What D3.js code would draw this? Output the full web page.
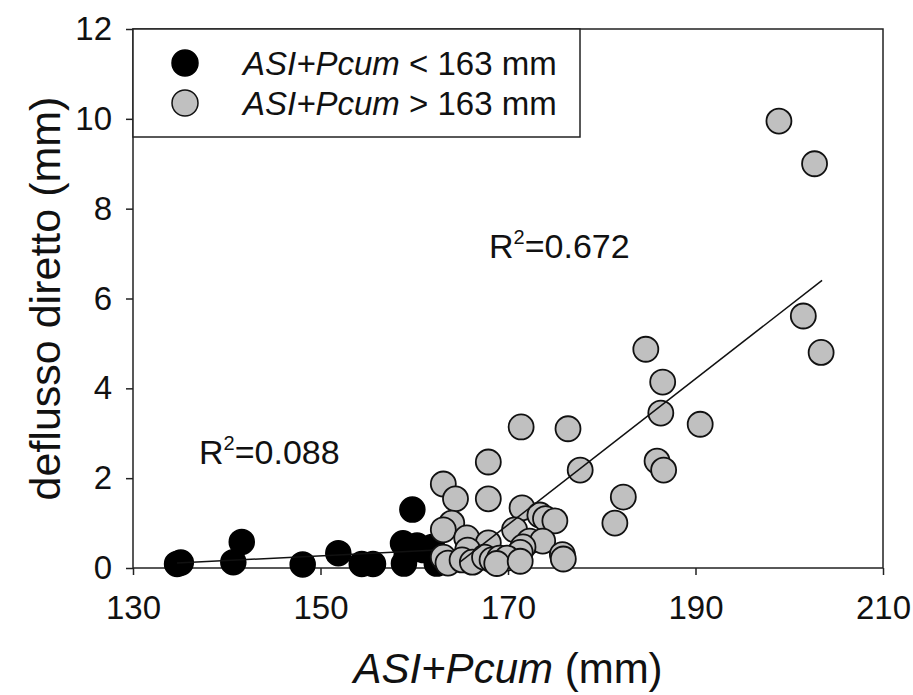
<!DOCTYPE html>
<html>
<head>
<meta charset="utf-8">
<script src="https://cdn.jsdelivr.net/npm/d3@7.9.0/dist/d3.min.js"></script>
<style>
  body { margin: 0; background: #fff; }
  svg { display: block; font-family: "Liberation Sans", Arial, sans-serif; }
</style>
</head>
<body>
<svg width="913" height="695"></svg>
<script>
// ASI+Pcum < 163 mm (black)
const lowX = [134.7, 135.1, 140.7, 141.6, 148.1, 151.9, 154.4, 155.6, 159.8, 158.8, 158.9, 160.3, 161.0, 161.9, 162.4, 159.2, 162.8];
const lowY = [0.09, 0.12, 0.13, 0.58, 0.08, 0.33, 0.09, 0.09, 1.30, 0.55, 0.10, 0.50, 0.40, 0.47, 0.10, 0.30, 0.20];

// ASI+Pcum > 163 mm (grey)
const highX = [198.9, 202.7, 201.5, 203.4, 184.7, 186.5, 186.3, 190.5, 185.9, 186.6, 177.7, 176.4, 182.3, 181.4,
  171.4, 167.9, 163.1, 164.4, 167.9, 171.5, 173.4, 174.0, 175.0, 164.0, 163.1, 170.7, 165.6, 172.3, 173.7,
  171.6, 167.9, 165.7, 171.3, 175.8, 175.9, 163.1, 163.6, 165.1, 166.2, 167.5, 168.3, 169.1, 169.9, 168.8, 171.3];
const highY = [9.95, 9.00, 5.61, 4.80, 4.87, 4.14, 3.45, 3.20, 2.38, 2.18, 2.18, 3.10, 1.58, 1.00,
  3.14, 2.36, 1.87, 1.54, 1.54, 1.34, 1.18, 1.10, 1.05, 1.00, 0.85, 0.85, 0.67, 0.60, 0.60,
  0.47, 0.56, 0.40, 0.35, 0.30, 0.20, 0.24, 0.11, 0.18, 0.13, 0.24, 0.18, 0.22, 0.22, 0.10, 0.15];

// fitted lines: [slope, intercept, xStart, xEnd]
const lowFit = [0.0104, -1.29, 134.7, 162.4];
const highFit = [0.1624, -26.645, 164.8, 203.5];
const r2Labels = ["0.088", "0.672"];

const xTicks = [130, 150, 170, 190, 210];
const yTicks = [0, 2, 4, 6, 8, 10, 12];

const svg = d3.select('svg');
const margin = { left: 133, right: 30, top: 29, bottom: 127 };
const W = 913, H = 695;

const x = d3.scaleLinear().domain([130, 210]).range([margin.left, W - margin.right]);
const y = d3.scaleLinear().domain([0, 12]).range([H - margin.bottom, margin.top]);

const lineColor = '#222';

// axes
let xAxis = svg.append('g')
  .attr('transform', `translate(0,${y(0)})`)
  .call(d3.axisBottom(x).tickValues(xTicks).tickSize(7).tickSizeOuter(0).tickPadding(21));
let yAxis = svg.append('g')
  .attr('transform', `translate(${x(130)},0)`)
  .call(d3.axisLeft(y).tickValues(yTicks).tickSize(7).tickSizeOuter(0).tickPadding(14));

[xAxis, yAxis].forEach((ax) => {
  ax.select('.domain').remove();
  ax.selectAll('line').attr('stroke', lineColor).attr('stroke-width', 1.5);
  ax.selectAll('text')
    .attr('font-size', 33)
    .attr('fill', '#111')
    .attr('font-family', '"Liberation Sans", Arial, sans-serif');
});

// frame
svg.append('rect')
  .attr('x', x(130)).attr('y', y(12))
  .attr('width', x(210) - x(130)).attr('height', y(0) - y(12))
  .attr('fill', 'none').attr('stroke', lineColor).attr('stroke-width', 1.5);

// regression lines
function fitLine(fit) {
  let [m, b, x0, x1] = fit;
  svg.append('line')
    .attr('x1', x(x0)).attr('y1', y(m * x0 + b))
    .attr('x2', x(x1)).attr('y2', y(m * x1 + b))
    .attr('stroke', '#111').attr('stroke-width', 1.5);
}

// points
const r = 12.5;
lowX.forEach((v, i) => {
  svg.append('circle')
    .attr('cx', x(v)).attr('cy', y(lowY[i])).attr('r', r)
    .attr('fill', '#000').attr('stroke', '#000').attr('stroke-width', 1.5);
});
fitLine(lowFit);
highX.forEach((v, i) => {
  svg.append('circle')
    .attr('cx', x(v)).attr('cy', y(highY[i])).attr('r', r)
    .attr('fill', '#c0c0c0').attr('stroke', '#111').attr('stroke-width', 1.8);
});
fitLine(highFit);

// R² labels
function r2Text(px, py, val) {
  let t = svg.append('text').attr('x', px).attr('y', py)
    .attr('font-size', 34).attr('fill', '#111');
  t.append('tspan').text('R');
  t.append('tspan').attr('font-size', 20).attr('dy', -14).text('2');
  t.append('tspan').attr('dy', 14).text('=' + val);
}
r2Text(199, 464, r2Labels[0]);
r2Text(489, 258, r2Labels[1]);

// legend
svg.append('rect')
  .attr('x', x(130)).attr('y', y(12))
  .attr('width', 447).attr('height', 108)
  .attr('fill', '#fff').attr('stroke', lineColor).attr('stroke-width', 1.5);

const legendItems = [
  { fill: '#000', stroke: '#000', sign: '<' },
  { fill: '#c0c0c0', stroke: '#111', sign: '>' }
];
legendItems.forEach((d, i) => {
  let cy = 63 + i * 40;
  svg.append('circle').attr('cx', 185).attr('cy', cy).attr('r', 13)
    .attr('fill', d.fill).attr('stroke', d.stroke).attr('stroke-width', 1.5);
  let t = svg.append('text').attr('x', 243).attr('y', cy + 12)
    .attr('font-size', 33).attr('fill', '#111');
  t.append('tspan').attr('font-style', 'italic').text('ASI+Pcum');
  t.append('tspan').text(` ${d.sign} 163 mm`);
});

// axis titles
let xt = svg.append('text')
  .attr('x', (x(130) + x(210)) / 2).attr('y', 683)
  .attr('text-anchor', 'middle').attr('font-size', 42).attr('fill', '#111');
xt.append('tspan').attr('font-style', 'italic').text('ASI+Pcum');
xt.append('tspan').text(' (mm)');

svg.append('text')
  .attr('transform', `translate(60,${(y(0) + y(12)) / 2}) rotate(-90)`)
  .attr('text-anchor', 'middle').attr('font-size', 43).attr('fill', '#111')
  .text('deflusso diretto (mm)');
</script>
</body>
</html>
